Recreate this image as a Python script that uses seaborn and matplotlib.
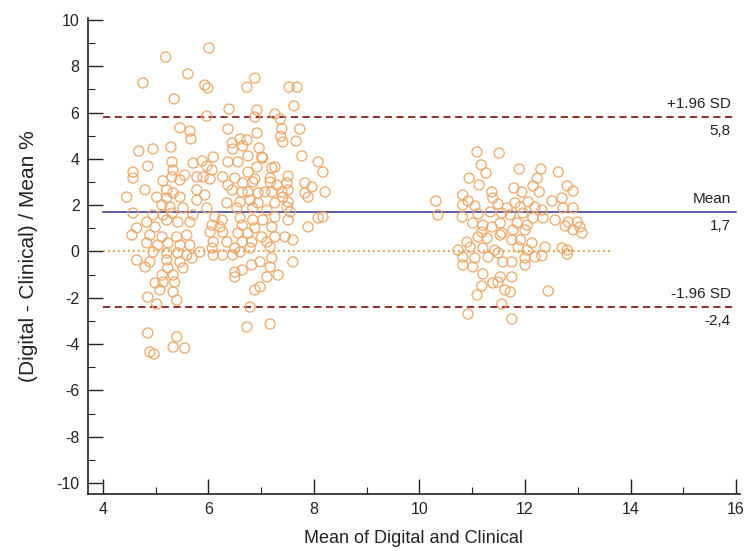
import numpy as np
import pandas as pd
import seaborn as sns
import matplotlib.pyplot as plt
from matplotlib.ticker import MultipleLocator

# ---- data ----
# left group (means around 4.5 - 6)
left_mean = [5.19, 4.76, 5.61, 5.35, 5.46, 5.65, 5.67, 4.68, 4.95, 5.29, 5.31, 5.71, 5.88, 5.97,
             4.57, 4.85, 5.33, 5.55, 5.78, 5.90, 4.57, 5.14, 5.31, 5.46, 4.45, 4.80, 5.02, 5.21,
             5.33, 5.46, 5.78, 5.93, 5.21, 5.78, 5.12, 5.27, 5.52, 5.97, 4.57, 4.95, 5.14, 5.31,
             5.71, 4.83, 4.99, 5.21, 5.42, 5.65, 4.64, 4.55, 4.89, 5.12, 5.40, 5.59, 4.83, 5.04,
             5.23, 5.46, 5.65, 4.95, 5.21, 5.42, 5.59, 5.84, 4.64, 4.89, 5.21, 5.46, 5.69, 4.80,
             5.23, 5.52, 5.12, 5.33, 4.99, 5.14, 5.36, 5.08, 5.33, 4.85, 5.02, 5.40, 4.85, 5.40,
             5.33, 5.55, 4.89, 4.97]
left_diff = [8.40, 7.28, 7.67, 6.59, 5.34, 5.20, 4.86, 4.34, 4.43, 4.51, 3.87, 3.82, 3.91, 3.69,
             3.43, 3.69, 3.52, 3.30, 3.22, 3.22, 3.17, 3.05, 3.22, 3.09, 2.35, 2.66, 2.35, 2.66,
             2.53, 2.35, 2.66, 2.44, 2.31, 2.22, 2.01, 1.92, 1.88, 1.88, 1.66, 1.58, 1.58, 1.66,
             1.58, 1.27, 1.06, 1.36, 1.27, 1.27, 1.02, 0.71, 0.71, 0.63, 0.63, 0.71, 0.37, 0.28,
             0.37, 0.28, 0.28, -0.02, -0.06, -0.06, -0.15, -0.02, -0.37, -0.45, -0.37, -0.45, -0.28, -0.67,
             -0.71, -0.71, -1.02, -1.02, -1.36, -1.32, -1.32, -1.66, -1.75, -1.97, -2.27, -2.10, -3.52, -3.69,
             -4.13, -4.17, -4.34, -4.43]

# middle group (means around 6 - 8.3)
mid_mean = [6.01, 5.93, 5.99, 6.73, 6.88, 7.53, 7.68, 7.62, 6.39, 6.92, 6.88, 7.26, 7.36, 5.97,
            6.37, 6.92, 7.39, 7.37, 7.41, 7.73, 7.66, 6.45, 6.60, 6.73, 6.46, 6.65, 6.96, 7.01,
            6.75, 7.77, 8.08, 6.09, 6.37, 6.56, 7.03, 7.20, 6.92, 6.07, 6.75, 7.51, 8.17, 6.27,
            6.50, 6.88, 7.17, 7.49, 7.83, 7.96, 6.03, 6.45, 6.64, 6.75, 6.94, 7.20, 7.39, 8.21,
            7.89, 7.26, 6.37, 6.65, 6.84, 7.17, 7.30, 7.51, 7.83, 7.07, 7.41, 6.35, 6.60, 6.79,
            6.94, 7.26, 7.51, 7.49, 6.54, 6.84, 7.11, 7.55, 6.12, 6.26, 6.60, 6.84, 7.03, 7.26,
            7.51, 8.08, 8.17, 6.07, 6.22, 6.64, 6.88, 7.20, 7.89, 6.03, 6.27, 6.56, 6.75, 7.01,
            7.26, 7.45, 7.60, 6.09, 6.35, 6.64, 6.82, 7.11, 6.07, 6.50, 6.79, 7.17, 6.09, 6.27,
            6.46, 6.60, 7.20, 7.17, 7.60, 6.50, 6.64, 6.82, 6.98, 6.50, 7.11, 7.32, 6.98, 6.88,
            6.79, 6.73, 7.17]
mid_diff = [8.79, 7.19, 7.06, 7.10, 7.49, 7.10, 7.10, 6.29, 6.15, 6.11, 5.81, 5.94, 5.72, 5.85,
            5.29, 5.12, 5.30, 4.97, 4.73, 5.29, 4.77, 4.69, 4.86, 4.82, 4.43, 4.56, 4.47, 4.08,
            4.13, 4.13, 3.87, 4.08, 3.87, 3.87, 4.04, 3.61, 3.65, 3.52, 3.43, 3.26, 3.43, 3.22,
            3.17, 3.13, 3.17, 2.96, 2.96, 2.79, 3.13, 2.66, 2.57, 2.57, 2.53, 2.57, 2.57, 2.57,
            2.35, 3.65, 2.87, 2.96, 3.00, 3.00, 2.87, 2.66, 2.53, 2.57, 2.35, 2.10, 2.14, 2.22,
            2.10, 2.10, 2.14, 1.92, 1.88, 1.88, 1.79, 1.71, 1.49, 1.36, 1.45, 1.36, 1.36, 1.49,
            1.36, 1.45, 1.49, 1.14, 1.06, 1.14, 1.02, 1.06, 1.06, 0.84, 0.84, 0.80, 0.80, 0.63,
            0.63, 0.63, 0.50, 0.41, 0.41, 0.41, 0.41, 0.41, 0.15, 0.15, 0.15, 0.19, -0.15, -0.15,
            -0.15, -0.02, -0.28, -0.67, -0.45, -0.89, -0.80, -0.58, -0.45, -1.10, -1.10, -1.02, -1.53, -1.66,
            -2.40, -3.26, -3.13]

# right group (means around 10.3 - 13.1)
right_mean = [11.09, 11.51, 11.17, 11.26, 10.94, 11.13, 11.89, 12.30, 12.63, 12.23, 11.79, 11.94,
              12.15, 12.27, 12.80, 12.91, 10.31, 10.82, 11.37, 10.92, 11.39, 12.51, 12.70, 10.82,
              11.05, 11.49, 11.81, 11.66, 11.91, 12.06, 12.19, 12.32, 12.91, 12.72, 10.35, 10.81,
              11.11, 11.34, 11.56, 11.72, 11.96, 12.15, 12.34, 12.57, 12.82, 12.99, 11.01, 11.20,
              11.37, 11.53, 11.85, 12.04, 12.76, 13.04, 11.18, 11.56, 11.77, 12.00, 12.91, 13.08,
              10.90, 11.11, 11.28, 11.53, 11.75, 11.91, 12.13, 12.38, 10.73, 10.96, 11.20, 11.43,
              11.87, 12.04, 12.70, 12.80, 12.80, 10.82, 11.05, 11.30, 11.49, 12.00, 12.19, 12.32,
              10.82, 11.01, 11.58, 11.75, 12.00, 11.20, 11.53, 11.75, 11.18, 11.39, 11.49, 11.62,
              11.72, 12.44, 11.09, 11.56, 10.92, 11.75]
right_diff = [4.30, 4.25, 3.74, 3.39, 3.17, 2.87, 3.56, 3.56, 3.43, 3.17, 2.74, 2.57,
              2.83, 2.57, 2.83, 2.61, 2.18, 2.44, 2.57, 2.18, 2.31, 2.18, 2.31, 2.01,
              1.97, 2.05, 2.10, 1.88, 1.92, 2.14, 1.92, 1.79, 1.88, 1.88, 1.58, 1.49,
              1.62, 1.71, 1.66, 1.58, 1.66, 1.45, 1.45, 1.36, 1.27, 1.27, 1.23, 1.14,
              1.06, 1.23, 1.23, 1.14, 1.10, 1.06, 0.84, 0.80, 0.93, 0.93, 0.93, 0.80,
              0.41, 0.63, 0.58, 0.71, 0.50, 0.50, 0.37, 0.19, 0.06, 0.19, 0.15, 0.06,
              0.19, 0.06, 0.15, 0.06, -0.11, -0.24, -0.28, -0.24, -0.06, -0.28, -0.24, -0.19,
              -0.58, -0.67, -0.45, -0.45, -0.58, -0.97, -1.10, -1.10, -1.49, -1.36, -1.32, -1.66,
              -1.75, -1.71, -1.88, -2.27, -2.70, -2.92]

mean_diff = 1.7
upper_loa = 5.8
lower_loa = -2.4

df = pd.DataFrame({
    'mean': left_mean + mid_mean + right_mean,
    'diff': left_diff + mid_diff + right_diff,
})

sns.set_style("white")
plt.rcParams['font.family'] = ['Liberation Sans', 'DejaVu Sans']
plt.rcParams['axes.unicode_minus'] = False

fig = plt.figure(figsize=(7.45, 5.51), dpi=100)
ax = fig.add_axes([0.118, 0.1035, 0.875, 0.864])

sns.scatterplot(data=df, x='mean', y='diff', ax=ax, s=52, facecolor='none',
                edgecolor='#F0A665', linewidth=0.9, zorder=3)

# reference lines
ax.plot([4, 16], [upper_loa, upper_loa], color='#8B1C1C', lw=1.3, ls=(0, (4, 2.5)), zorder=2)
ax.plot([4, 16], [lower_loa, lower_loa], color='#8B1C1C', lw=1.3, ls=(0, (4, 2.5)), zorder=2)
ax.plot([4, 16], [mean_diff, mean_diff], color='#5B5BA8', lw=1.4, zorder=2)
ax.plot([4, 13.65], [0, 0], color='#E0861E', lw=1.2, ls=(0, (1, 2)), zorder=2)

# labels at the right end of the lines
lbl = dict(ha='right', fontsize=11, color='#222222')
ax.text(15.9, upper_loa + 0.25, '+1.96 SD', va='bottom', **lbl)
ax.text(15.9, upper_loa - 0.3, '5,8', va='top', **lbl)
ax.text(15.9, mean_diff + 0.25, 'Mean', va='bottom', **lbl)
ax.text(15.9, mean_diff - 0.3, '1,7', va='top', **lbl)
ax.text(15.9, lower_loa + 0.25, '-1.96 SD', va='bottom', **lbl)
ax.text(15.9, lower_loa - 0.3, '-2,4', va='top', **lbl)

ax.set_xlim(3.716, 16.07)
ax.set_ylim(-10.475, 10.09)
ax.xaxis.set_major_locator(MultipleLocator(2))
ax.xaxis.set_minor_locator(MultipleLocator(1))
ax.yaxis.set_major_locator(MultipleLocator(2))
ax.yaxis.set_minor_locator(MultipleLocator(1))
ax.set_xticks(np.arange(4, 17, 2))
ax.set_yticks(np.arange(-10, 11, 2))

sns.despine(ax=ax)
for sp in ['left', 'bottom']:
    ax.spines[sp].set_color('#222222')
    ax.spines[sp].set_linewidth(1.2)
ax.tick_params(which='major', direction='in', length=10.5, width=1.0, labelsize=11.5,
               colors='#222222', pad=6)
ax.tick_params(which='minor', direction='in', length=5, width=0.8, colors='#222222')
ax.tick_params(axis='x', which='both', bottom=True)
ax.tick_params(axis='y', which='both', left=True)

ax.set_xlabel('Mean of Digital and Clinical', fontsize=13, color='#222222', labelpad=9)
ax.set_ylabel('(Digital - Clinical) / Mean %', fontsize=15, color='#222222', labelpad=13)

fig.savefig('out.png', dpi=100)
